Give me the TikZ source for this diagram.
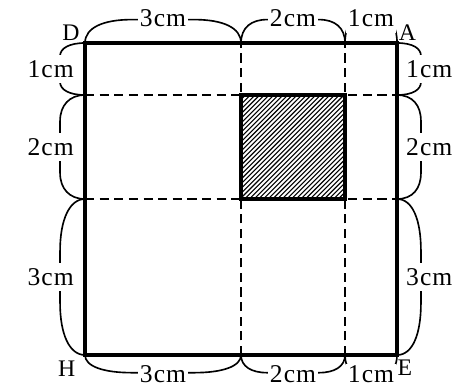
\documentclass[tikz,border=0pt]{standalone}
\usepackage{fontspec}
\setmainfont{Liberation Serif}[LetterSpace=4]
\begin{document}
\begin{tikzpicture}[
  frame/.style={line width=2.3pt},
  grid/.style={line width=1.3pt, dash pattern=on 5pt off 3pt},
  curly/.style={line width=0.9pt},
  lbl/.style={fill=white, inner xsep=1pt, inner ysep=3pt, font=\fontsize{14}{16}\selectfont},
  corner/.style={inner sep=0pt, font=\fontsize{13}{15}\selectfont}]
  \useasboundingbox (-1.635,-0.654) rectangle (7.288,6.827);
  \coordinate (cH) at (0,0);
  \coordinate (cE) at (6,0);
  \coordinate (cA) at (6,6);
  \coordinate (cD) at (0,6);
  \node[corner] (D) at (-0.27,6.2){D};
  \node[corner] (A) at (6.2,6.2){A};
  \node[corner] (H) at (-0.35,-0.27){H};
  \node[corner] (E) at (6.15,-0.25){E};
  % hatched square
  \begin{scope}
    \clip (3,3) rectangle (5,5);
    \foreach \s in {-2.0,-1.91,...,2.0}
      \draw[line width=0.6pt] (3+\s,3) -- +(2,2);
  \end{scope}
  \draw[grid] (3,0) -- (3,6);
  \draw[grid] (5,0) -- (5,6);
  \draw[grid] (0,5) -- (6,5);
  \draw[grid] (0,3) -- (6,3);
  \draw[frame] (3,3) rectangle (5,5);
  \draw[frame] (cH) -- (cE) -- (cA) -- (cD) -- cycle;
  % braces
  \foreach \a/\b/\k/\t in {0/3/0.9/3cm,3/5/0.5/2cm,5/6/0.25/1cm}{
    \draw[curly] (\a,6) .. controls (\a,6.3) and (\a+0.4*\k,6.45) .. (\a+\k,6.45)
      -- (\b-\k,6.45) .. controls (\b-0.4*\k,6.45) and (\b,6.3) .. (\b,6);
    \node[lbl] (top\a) at ({(\a+\b)/2},6.47){\t};
    \draw[curly] (\a,0) .. controls (\a,-0.22) and (\a+0.4*\k,-0.34) .. (\a+\k,-0.34)
      -- (\b-\k,-0.34) .. controls (\b-0.4*\k,-0.34) and (\b,-0.22) .. (\b,0);
    \node[lbl, inner ysep=1pt] (bot\a) at ({(\a+\b)/2},-0.37){\t};
  }
  \foreach \a/\b/\k/\t in {6/5/0.25/1cm,5/3/0.5/2cm,3/0/1.0/3cm}{
    \draw[curly] (0,\a) .. controls (-0.3,\a) and (-0.48,\a-0.4*\k) .. (-0.48,\a-\k)
      -- (-0.48,\b+\k) .. controls (-0.48,\b+0.4*\k) and (-0.3,\b) .. (0,\b);
    \node[lbl] (lft\a) at (-0.66,{(\a+\b)/2}){\t};
    \draw[curly] (6,\a) .. controls (6.3,\a) and (6.46,\a-0.4*\k) .. (6.46,\a-\k)
      -- (6.46,\b+\k) .. controls (6.46,\b+0.4*\k) and (6.3,\b) .. (6,\b);
    \node[lbl] (rgt\a) at (6.62,{(\a+\b)/2}){\t};
  }
\end{tikzpicture}
\end{document}
